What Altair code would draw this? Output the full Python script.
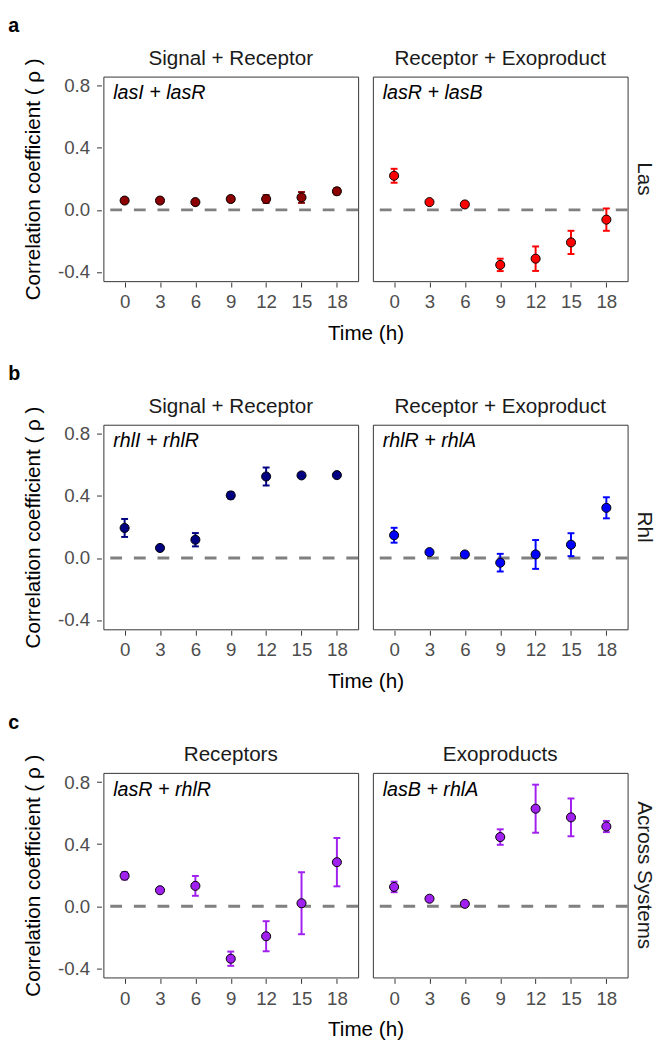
import altair as alt
import pandas as pd

FONT = "Liberation Sans"

times = [0, 3, 6, 9, 12, 15, 18]

# Row a: Las
las_sig_rho = [0.06, 0.06, 0.05, 0.07, 0.07, 0.08, 0.12]
las_sig_err = [0.015, 0.012, 0.015, 0.015, 0.025, 0.035, 0.02]
las_exo_rho = [0.22, 0.05, 0.035, -0.355, -0.315, -0.21, -0.063]
las_exo_err = [0.045, 0.01, 0.01, 0.04, 0.079, 0.075, 0.072]
# Row b: Rhl
rhl_sig_rho = [0.194, 0.065, 0.118, 0.404, 0.526, 0.533, 0.535]
rhl_sig_err = [0.058, 0.01, 0.043, 0.02, 0.058, 0.01, 0.01]
rhl_exo_rho = [0.147, 0.038, 0.023, -0.03, 0.023, 0.086, 0.324]
rhl_exo_err = [0.048, 0.01, 0.01, 0.057, 0.093, 0.074, 0.068]
# Row c: Across Systems
acr_rec_rho = [0.196, 0.103, 0.131, -0.339, -0.194, 0.019, 0.284]
acr_rec_err = [0.023, 0.01, 0.064, 0.046, 0.097, 0.2, 0.156]
acr_exo_rho = [0.124, 0.048, 0.015, 0.446, 0.629, 0.573, 0.514]
acr_exo_err = [0.034, 0.01, 0.01, 0.05, 0.155, 0.122, 0.036]

Y_TITLE = "Correlation coefficient ( \u03c1 )"
Y_SCALE = alt.Scale(domain=[-0.46, 0.86], nice=False, zero=False)
Y_AXIS = alt.Axis(
    title=Y_TITLE, values=[-0.4, 0.0, 0.4, 0.8],
    labelExpr="replace(format(datum.value, '.1f'), '\u2212', '-')",
    titlePadding=14, labelPadding=7,
)
PANEL_W = 259


def make_df(panels, system):
    rows = []
    for name, label, color, rho, err in panels:
        for t, r, e in zip(times, rho, err):
            rows.append(dict(time=t, rho=r, lo=r - e, hi=r + e, panel=name,
                             label=label, color=color, system=system))
    return pd.DataFrame(rows)


def row_chart(df, letter, col_order):
    xenc = alt.X("time:O", scale=alt.Scale(type="point", padding=0.6),
                 axis=alt.Axis(title=None, labelAngle=0, labelPadding=6))
    base = alt.Chart().encode(x=xenc)
    zero = alt.Chart().mark_rule(color="#808080", strokeWidth=3, strokeDash=[12, 12]).encode(
        y=alt.datum(0, scale=Y_SCALE, axis=Y_AXIS, title=Y_TITLE)
    ).transform_filter("datum.time == 0")
    bars = base.mark_rule(strokeWidth=2).encode(
        y=alt.Y("lo:Q", scale=Y_SCALE, axis=Y_AXIS, title=Y_TITLE),
        y2="hi:Q",
        color=alt.Color("color:N", scale=None),
    )
    cap_lo = base.mark_tick(thickness=2, size=7, opacity=1).encode(
        y=alt.Y("lo:Q", scale=Y_SCALE, axis=Y_AXIS, title=Y_TITLE),
        color=alt.Color("color:N", scale=None),
    )
    cap_hi = base.mark_tick(thickness=2, size=7, opacity=1).encode(
        y=alt.Y("hi:Q", scale=Y_SCALE, axis=Y_AXIS, title=Y_TITLE),
        color=alt.Color("color:N", scale=None),
    )
    pts = base.mark_circle(size=85, opacity=1, stroke="black", strokeWidth=1).encode(
        y=alt.Y("rho:Q", scale=Y_SCALE, axis=Y_AXIS, title=Y_TITLE),
        fill=alt.Fill("color:N", scale=None),
    )
    lab = alt.Chart().mark_text(
        align="left", baseline="alphabetic", fontStyle="italic", fontSize=20,
        font=FONT, color="black",
    ).encode(x=alt.value(10), y=alt.value(23), text="label:N").transform_filter("datum.time == 0")

    layered = alt.layer(zero, bars, cap_lo, cap_hi, pts, lab, data=df).properties(width=PANEL_W, height=208)
    return layered.facet(
        column=alt.Column("panel:N", sort=col_order, title="Time (h)",
                          header=alt.Header(labelFontSize=21, labelFont=FONT, labelColor="#1A1A1A",
                                            labelPadding=7, labelOrient="top",
                                            titleOrient="bottom", titleFontSize=21, titleFont=FONT,
                                            titleColor="black", titleFontWeight="normal",
                                            titlePadding=2)),
        row=alt.Row("system:N", title=None,
                    header=alt.Header(labelOrient="right", labelAngle=90, labelFontSize=21,
                                      labelFont=FONT, labelColor="#1A1A1A", labelPadding=5)),
        spacing=11,
    ).properties(title=alt.TitleParams(letter, anchor="start", fontSize=20, fontWeight="bold",
                                       font=FONT, color="black", dx=-15, offset=12))


dfa = make_df([
    ("Signal + Receptor", "lasI + lasR", "#8B0000", las_sig_rho, las_sig_err),
    ("Receptor + Exoproduct", "lasR + lasB", "#FF0000", las_exo_rho, las_exo_err),
], "Las")
dfb = make_df([
    ("Signal + Receptor", "rhlI + rhlR", "#000080", rhl_sig_rho, rhl_sig_err),
    ("Receptor + Exoproduct", "rhlR + rhlA", "#0000FF", rhl_exo_rho, rhl_exo_err),
], "Rhl")
dfc = make_df([
    ("Receptors", "lasR + rhlR", "#A020F0", acr_rec_rho, acr_rec_err),
    ("Exoproducts", "lasB + rhlA", "#A020F0", acr_exo_rho, acr_exo_err),
], "Across Systems")

ca = row_chart(dfa, "a", ["Signal + Receptor", "Receptor + Exoproduct"])
cb = row_chart(dfb, "b", ["Signal + Receptor", "Receptor + Exoproduct"])
cc = row_chart(dfc, "c", ["Receptors", "Exoproducts"])

chart = alt.vconcat(ca, cb, cc, spacing=21).properties(
    padding={"left": 0, "top": 0, "right": 8, "bottom": 0}
).configure_view(
    stroke="#333333", strokeWidth=1
).configure_axis(
    domain=False, grid=False, tickColor="#333333", tickWidth=1, tickSize=5,
    labelFontSize=19, labelColor="#4D4D4D", labelFont=FONT,
    titleFont=FONT, titleFontSize=21, titleColor="black", titleFontWeight="normal",
)

chart.save("out.html", embed_options={"renderer": "svg", "actions": False})
